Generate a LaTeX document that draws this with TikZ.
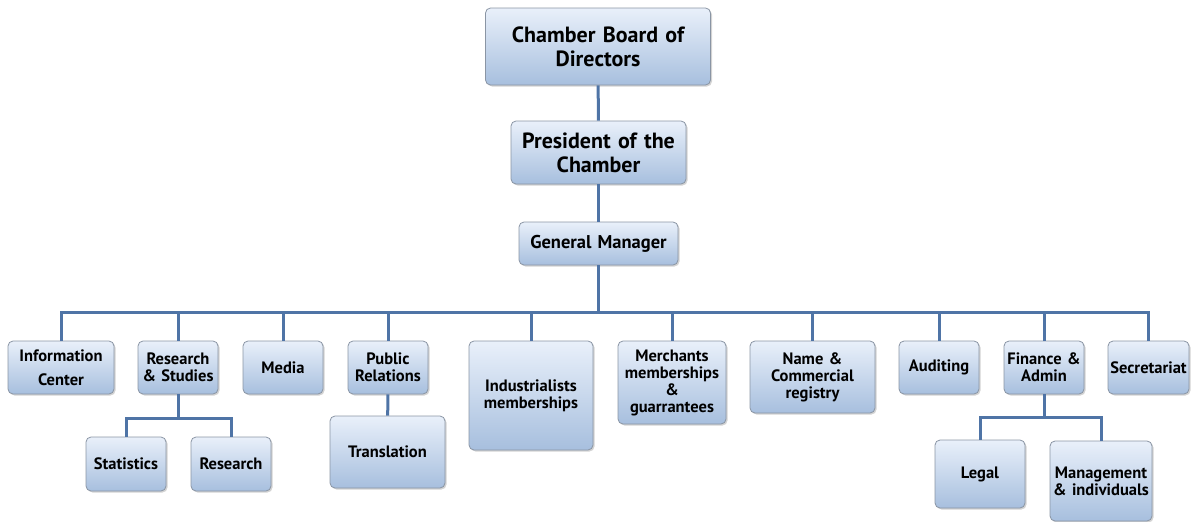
\documentclass[tikz,border=0pt]{standalone}
\usepackage{fontspec}
\setmainfont{PT Sans}
\usetikzlibrary{shadows}

\definecolor{linkblue}{HTML}{4F74A6}
\definecolor{boxtop}{HTML}{E9F0FA}
\definecolor{boxbottom}{HTML}{A7BFDE}
\definecolor{boxline}{HTML}{8A95A4}

\tikzset{
  orgbox/.style={rounded corners=5pt, draw=boxline, line width=0.8pt,
    top color=boxtop, bottom color=boxbottom, inner sep=0pt,
    align=center, font=\bfseries\fontsize{16.5}{17}\selectfont,
    drop shadow={shadow xshift=1.5pt, shadow yshift=-1.5pt, opacity=0.35}},
  topbox/.style={orgbox, font=\bfseries\fontsize{22}{24}\selectfont},
  link/.style={draw=linkblue, line width=3pt}
}

\begin{document}
\begin{tikzpicture}[x=1pt, y=-1pt]
  \useasboundingbox (0,0) rectangle (1203,522);

  % Top of the chart
  \node[topbox, text width=225pt, minimum height=77pt] (board) at (598,46.5) {Chamber Board of\\Directors};
  \node[topbox, text width=175pt, minimum height=63pt] (pres) at (598.5,152.5) {President of the\\Chamber};
  \node[orgbox, font=\bfseries\fontsize{18.5}{20}\selectfont, text width=159pt, minimum height=43pt] (gm) at (598.5,243.5) {General Manager};

  % Departments
  \node[orgbox, text width=106pt, minimum height=53pt] (info) at (61,367.5) {Information\\[7pt]Center};
  \node[orgbox, text width=80pt, minimum height=53pt] (rs) at (178,367.5) {Research\\\& Studies};
  \node[orgbox, text width=80pt, minimum height=53pt] (media) at (283,367.5) {Media};
  \node[orgbox, text width=80pt, minimum height=53pt] (pr) at (388,367.5) {Public\\Relations};
  \node[orgbox, text width=124pt, minimum height=109pt] (ind) at (531,395.5) {Industrialists\\memberships};
  \node[orgbox, text width=108pt, minimum height=83pt] (merch) at (672,382.5) {Merchants\\memberships\\\&\\guarrantees};
  \node[orgbox, text width=125pt, minimum height=72pt] (name) at (812.5,377) {Name \&\\Commercial\\registry};
  \node[orgbox, text width=80pt, minimum height=53pt] (audit) at (939,367.5) {Auditing};
  \node[orgbox, text width=80pt, minimum height=53pt] (fin) at (1044,367.5) {Finance \&\\Admin};
  \node[orgbox, text width=81pt, minimum height=53pt] (sec) at (1148.5,367.5) {Secretariat};

  % Sub units
  \node[orgbox, text width=80pt, minimum height=54pt] (stat) at (126,464) {Statistics};
  \node[orgbox, text width=80pt, minimum height=54pt] (res) at (231,464) {Research};
  \node[orgbox, text width=115pt, minimum height=72pt] (trans) at (387.5,452) {Translation};
  \node[orgbox, text width=90pt, minimum height=68pt] (legal) at (980,474) {Legal};
  \node[orgbox, text width=102pt, minimum height=80pt] (mgmt) at (1101,481) {Management\\\& individuals};

  % Bus points
  \coordinate (bus) at (598.5,312);
  \coordinate (rsbus) at (178,418);
  \coordinate (finbus) at (1044,417);

  % Connectors
  \draw[link] (board) -- (pres);
  \draw[link] (pres) -- (gm);
  \draw[link] (gm) -- (bus);
  \foreach \d in {info,rs,media,pr,ind,merch,name,audit,fin,sec}
    \draw[link] (bus) -| (\d.north);
  \draw[link] (rs) -- (rsbus);
  \draw[link] (rsbus) -| (stat.north);
  \draw[link] (rsbus) -| (res.north);
  \draw[link] (pr) -- (trans);
  \draw[link] (fin) -- (finbus);
  \draw[link] (finbus) -| (legal.north);
  \draw[link] (finbus) -| (mgmt.north);
\end{tikzpicture}
\end{document}
